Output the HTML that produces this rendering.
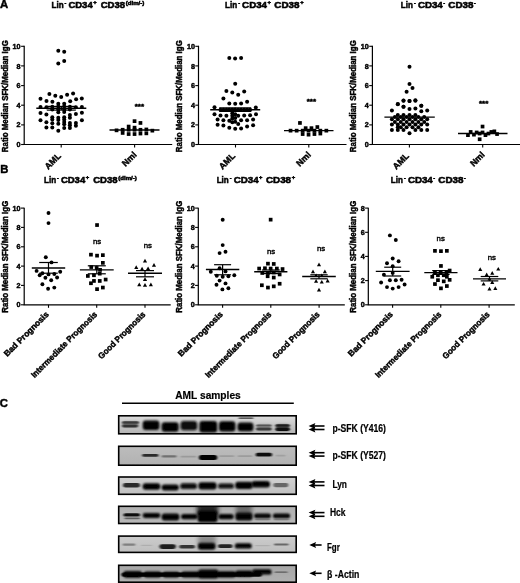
<!DOCTYPE html>
<html><head><meta charset="utf-8"><title>Figure</title>
<style>html,body{margin:0;padding:0;background:#fff}svg{display:block}text{font-family:'Liberation Sans', Arial, sans-serif;fill:#000}.bd{stroke:#000;stroke-width:0.45px}.bd2{stroke:#000;stroke-width:0.55px}.bd1{stroke:#000;stroke-width:0.2px}</style>
</head><body>
<svg width="520" height="583" viewBox="0 0 520 583">
<defs>
<filter id="b1" x="-20%" y="-50%" width="140%" height="200%"><feGaussianBlur stdDeviation="1.1 0.8"/></filter>
<filter id="b2" x="-20%" y="-50%" width="140%" height="200%"><feGaussianBlur stdDeviation="0.9 0.5"/></filter>
<filter id="b3" x="-20%" y="-50%" width="140%" height="200%"><feGaussianBlur stdDeviation="2 1.5"/></filter>
<filter id="soft" x="0" y="0" width="100%" height="100%" filterUnits="userSpaceOnUse" primitiveUnits="userSpaceOnUse"><feGaussianBlur stdDeviation="0.42"/></filter>
</defs>
<rect width="520" height="583" fill="#fff"/>
<g filter="url(#soft)">
<rect x="-5" y="-5" width="530" height="593" fill="#fff"/>
<text x="0" y="8.1" font-size="11.3" font-weight="bold" class="bd">A</text>
<text x="0.2" y="173.3" font-size="11.3" font-weight="bold" class="bd">B</text>
<text x="-0.2" y="407.1" font-size="11.3" font-weight="bold" class="bd">C</text>
<text x="51.5" y="8.0" font-size="9.9" font-weight="bold" class="bd2" textLength="12.1" lengthAdjust="spacingAndGlyphs">Lin</text>
<text x="64.6" y="5.0" font-size="6.0" font-weight="bold" class="bd2" textLength="1.8" lengthAdjust="spacingAndGlyphs">-</text>
<text x="68.4" y="8.0" font-size="9.9" font-weight="bold" class="bd2" textLength="24.3" lengthAdjust="spacingAndGlyphs">CD34</text>
<text x="93.2" y="4.2" font-size="6.0" font-weight="bold" class="bd2" textLength="3.4" lengthAdjust="spacingAndGlyphs">+</text>
<text x="100.7" y="8.0" font-size="9.9" font-weight="bold" class="bd2" textLength="24.4" lengthAdjust="spacingAndGlyphs">CD38</text>
<text x="125.7" y="4.6" font-size="6.0" font-weight="bold" class="bd2" textLength="18.6" lengthAdjust="spacingAndGlyphs">(dim/-)</text>
<text x="225.1" y="8.0" font-size="9.9" font-weight="bold" class="bd2" textLength="12.1" lengthAdjust="spacingAndGlyphs">Lin</text>
<text x="238.2" y="5.0" font-size="6.0" font-weight="bold" class="bd2" textLength="1.8" lengthAdjust="spacingAndGlyphs">-</text>
<text x="242.1" y="8.0" font-size="9.9" font-weight="bold" class="bd2" textLength="24.9" lengthAdjust="spacingAndGlyphs">CD34</text>
<text x="267.4" y="4.2" font-size="6.0" font-weight="bold" class="bd2" textLength="3.4" lengthAdjust="spacingAndGlyphs">+</text>
<text x="274.3" y="8.0" font-size="9.9" font-weight="bold" class="bd2" textLength="25.2" lengthAdjust="spacingAndGlyphs">CD38</text>
<text x="300.2" y="4.2" font-size="6.0" font-weight="bold" class="bd2" textLength="3.4" lengthAdjust="spacingAndGlyphs">+</text>
<text x="400.8" y="8.0" font-size="9.9" font-weight="bold" class="bd2" textLength="12.1" lengthAdjust="spacingAndGlyphs">Lin</text>
<text x="413.9" y="5.0" font-size="6.0" font-weight="bold" class="bd2" textLength="1.8" lengthAdjust="spacingAndGlyphs">-</text>
<text x="417.9" y="8.0" font-size="9.9" font-weight="bold" class="bd2" textLength="24.9" lengthAdjust="spacingAndGlyphs">CD34</text>
<text x="443.3" y="5.0" font-size="6.0" font-weight="bold" class="bd2" textLength="1.8" lengthAdjust="spacingAndGlyphs">-</text>
<text x="448.3" y="8.0" font-size="9.9" font-weight="bold" class="bd2" textLength="25.2" lengthAdjust="spacingAndGlyphs">CD38</text>
<text x="474.1" y="5.0" font-size="6.0" font-weight="bold" class="bd2" textLength="1.8" lengthAdjust="spacingAndGlyphs">-</text>
<text x="44.0" y="183.2" font-size="9.9" font-weight="bold" class="bd2" textLength="12.1" lengthAdjust="spacingAndGlyphs">Lin</text>
<text x="57.1" y="180.2" font-size="6.0" font-weight="bold" class="bd2" textLength="1.8" lengthAdjust="spacingAndGlyphs">-</text>
<text x="60.9" y="183.2" font-size="9.9" font-weight="bold" class="bd2" textLength="24.3" lengthAdjust="spacingAndGlyphs">CD34</text>
<text x="85.7" y="179.4" font-size="6.0" font-weight="bold" class="bd2" textLength="3.4" lengthAdjust="spacingAndGlyphs">+</text>
<text x="93.2" y="183.2" font-size="9.9" font-weight="bold" class="bd2" textLength="24.4" lengthAdjust="spacingAndGlyphs">CD38</text>
<text x="118.2" y="179.8" font-size="6.0" font-weight="bold" class="bd2" textLength="18.6" lengthAdjust="spacingAndGlyphs">(dim/-)</text>
<text x="216.7" y="183.2" font-size="9.9" font-weight="bold" class="bd2" textLength="12.1" lengthAdjust="spacingAndGlyphs">Lin</text>
<text x="229.8" y="180.2" font-size="6.0" font-weight="bold" class="bd2" textLength="1.8" lengthAdjust="spacingAndGlyphs">-</text>
<text x="233.7" y="183.2" font-size="9.9" font-weight="bold" class="bd2" textLength="24.9" lengthAdjust="spacingAndGlyphs">CD34</text>
<text x="259.0" y="179.4" font-size="6.0" font-weight="bold" class="bd2" textLength="3.4" lengthAdjust="spacingAndGlyphs">+</text>
<text x="265.9" y="183.2" font-size="9.9" font-weight="bold" class="bd2" textLength="25.2" lengthAdjust="spacingAndGlyphs">CD38</text>
<text x="291.8" y="179.4" font-size="6.0" font-weight="bold" class="bd2" textLength="3.4" lengthAdjust="spacingAndGlyphs">+</text>
<text x="390.8" y="183.2" font-size="9.9" font-weight="bold" class="bd2" textLength="12.1" lengthAdjust="spacingAndGlyphs">Lin</text>
<text x="403.9" y="180.2" font-size="6.0" font-weight="bold" class="bd2" textLength="1.8" lengthAdjust="spacingAndGlyphs">-</text>
<text x="407.9" y="183.2" font-size="9.9" font-weight="bold" class="bd2" textLength="24.9" lengthAdjust="spacingAndGlyphs">CD34</text>
<text x="433.3" y="180.2" font-size="6.0" font-weight="bold" class="bd2" textLength="1.8" lengthAdjust="spacingAndGlyphs">-</text>
<text x="438.3" y="183.2" font-size="9.9" font-weight="bold" class="bd2" textLength="25.2" lengthAdjust="spacingAndGlyphs">CD38</text>
<text x="464.1" y="180.2" font-size="6.0" font-weight="bold" class="bd2" textLength="1.8" lengthAdjust="spacingAndGlyphs">-</text>
<path d="M24.2 45.8V144.5H172.2" stroke="#000" stroke-width="1.2" fill="none"/>
<path d="M21.1 144.5H24.2" stroke="#000" stroke-width="1.1"/>
<text x="20.6" y="147.1" font-size="7.2" font-weight="bold" class="bd" text-anchor="end">0</text>
<path d="M21.1 124.9H24.2" stroke="#000" stroke-width="1.1"/>
<text x="20.6" y="127.4" font-size="7.2" font-weight="bold" class="bd" text-anchor="end">2</text>
<path d="M21.1 105.2H24.2" stroke="#000" stroke-width="1.1"/>
<text x="20.6" y="107.8" font-size="7.2" font-weight="bold" class="bd" text-anchor="end">4</text>
<path d="M21.1 85.6H24.2" stroke="#000" stroke-width="1.1"/>
<text x="20.6" y="88.1" font-size="7.2" font-weight="bold" class="bd" text-anchor="end">6</text>
<path d="M21.1 65.9H24.2" stroke="#000" stroke-width="1.1"/>
<text x="20.6" y="68.5" font-size="7.2" font-weight="bold" class="bd" text-anchor="end">8</text>
<path d="M21.1 46.3H24.2" stroke="#000" stroke-width="1.1"/>
<text x="20.6" y="48.8" font-size="7.2" font-weight="bold" class="bd" text-anchor="end">10</text>
<path d="M61.2 144.5V147.5" stroke="#000" stroke-width="1.1"/>
<path d="M134.6 144.5V147.5" stroke="#000" stroke-width="1.1"/>
<text transform="translate(7.6,96.2) rotate(-90)" font-size="8.8" font-weight="bold" class="bd" text-anchor="middle" textLength="112" lengthAdjust="spacingAndGlyphs">Ratio Median SFK/Median IgG</text>
<text transform="translate(61.5,156.6) rotate(-45)" font-size="8.7" font-weight="bold" class="bd" text-anchor="end">AML</text>
<text transform="translate(137.2,155.3) rotate(-45)" font-size="8.7" font-weight="bold" class="bd" text-anchor="end">Nml</text>
<path d="M198.5 45.8V144.5H346.5" stroke="#000" stroke-width="1.2" fill="none"/>
<path d="M195.3 144.5H198.5" stroke="#000" stroke-width="1.1"/>
<text x="194.9" y="147.1" font-size="7.2" font-weight="bold" class="bd" text-anchor="end">0</text>
<path d="M195.3 124.9H198.5" stroke="#000" stroke-width="1.1"/>
<text x="194.9" y="127.4" font-size="7.2" font-weight="bold" class="bd" text-anchor="end">2</text>
<path d="M195.3 105.2H198.5" stroke="#000" stroke-width="1.1"/>
<text x="194.9" y="107.8" font-size="7.2" font-weight="bold" class="bd" text-anchor="end">4</text>
<path d="M195.3 85.6H198.5" stroke="#000" stroke-width="1.1"/>
<text x="194.9" y="88.1" font-size="7.2" font-weight="bold" class="bd" text-anchor="end">6</text>
<path d="M195.3 65.9H198.5" stroke="#000" stroke-width="1.1"/>
<text x="194.9" y="68.5" font-size="7.2" font-weight="bold" class="bd" text-anchor="end">8</text>
<path d="M195.3 46.3H198.5" stroke="#000" stroke-width="1.1"/>
<text x="194.9" y="48.8" font-size="7.2" font-weight="bold" class="bd" text-anchor="end">10</text>
<path d="M235.5 144.5V147.5" stroke="#000" stroke-width="1.1"/>
<path d="M308.8 144.5V147.5" stroke="#000" stroke-width="1.1"/>
<text transform="translate(181.9,96.2) rotate(-90)" font-size="8.8" font-weight="bold" class="bd" text-anchor="middle" textLength="112" lengthAdjust="spacingAndGlyphs">Ratio Median SFK/Median IgG</text>
<text transform="translate(235.7,156.6) rotate(-45)" font-size="8.7" font-weight="bold" class="bd" text-anchor="end">AML</text>
<text transform="translate(311.4,155.3) rotate(-45)" font-size="8.7" font-weight="bold" class="bd" text-anchor="end">Nml</text>
<path d="M372.4 45.8V144.5H520.4" stroke="#000" stroke-width="1.2" fill="none"/>
<path d="M369.2 144.5H372.4" stroke="#000" stroke-width="1.1"/>
<text x="368.8" y="147.1" font-size="7.2" font-weight="bold" class="bd" text-anchor="end">0</text>
<path d="M369.2 124.9H372.4" stroke="#000" stroke-width="1.1"/>
<text x="368.8" y="127.4" font-size="7.2" font-weight="bold" class="bd" text-anchor="end">2</text>
<path d="M369.2 105.2H372.4" stroke="#000" stroke-width="1.1"/>
<text x="368.8" y="107.8" font-size="7.2" font-weight="bold" class="bd" text-anchor="end">4</text>
<path d="M369.2 85.6H372.4" stroke="#000" stroke-width="1.1"/>
<text x="368.8" y="88.1" font-size="7.2" font-weight="bold" class="bd" text-anchor="end">6</text>
<path d="M369.2 65.9H372.4" stroke="#000" stroke-width="1.1"/>
<text x="368.8" y="68.5" font-size="7.2" font-weight="bold" class="bd" text-anchor="end">8</text>
<path d="M369.2 46.3H372.4" stroke="#000" stroke-width="1.1"/>
<text x="368.8" y="48.8" font-size="7.2" font-weight="bold" class="bd" text-anchor="end">10</text>
<path d="M409.4 144.5V147.5" stroke="#000" stroke-width="1.1"/>
<path d="M482.7 144.5V147.5" stroke="#000" stroke-width="1.1"/>
<text transform="translate(355.8,96.2) rotate(-90)" font-size="8.8" font-weight="bold" class="bd" text-anchor="middle" textLength="112" lengthAdjust="spacingAndGlyphs">Ratio Median SFK/Median IgG</text>
<text transform="translate(409.6,156.6) rotate(-45)" font-size="8.7" font-weight="bold" class="bd" text-anchor="end">AML</text>
<text transform="translate(485.3,155.3) rotate(-45)" font-size="8.7" font-weight="bold" class="bd" text-anchor="end">Nml</text>
<g fill="#000">
<circle cx="58.3" cy="50.8" r="2.0"/>
<circle cx="64.2" cy="51.7" r="2.0"/>
<circle cx="58.3" cy="63.6" r="2.0"/>
<circle cx="64.2" cy="61.1" r="2.0"/>
<circle cx="40.5" cy="106.9" r="2.0"/>
<circle cx="81.9" cy="106.9" r="2.0"/>
<circle cx="46.4" cy="107.3" r="2.0"/>
<circle cx="75.9" cy="107.3" r="2.0"/>
<circle cx="52.3" cy="106.7" r="2.0"/>
<circle cx="69.9" cy="106.7" r="2.0"/>
<circle cx="58.3" cy="103.8" r="2.0"/>
<circle cx="64.2" cy="103.8" r="2.0"/>
<circle cx="58.3" cy="106.5" r="2.0"/>
<circle cx="64.2" cy="106.5" r="2.0"/>
<circle cx="58.3" cy="109.4" r="2.0"/>
<circle cx="64.2" cy="109.4" r="2.0"/>
<circle cx="58.3" cy="112.3" r="2.0"/>
<circle cx="64.2" cy="112.0" r="2.0"/>
<circle cx="52.3" cy="109.4" r="2.0"/>
<circle cx="69.9" cy="109.4" r="2.0"/>
<circle cx="40.5" cy="113.0" r="2.0"/>
<circle cx="46.4" cy="114.4" r="2.0"/>
<circle cx="75.9" cy="113.9" r="2.0"/>
<circle cx="81.9" cy="112.8" r="2.0"/>
<circle cx="52.3" cy="117.3" r="2.0"/>
<circle cx="52.3" cy="119.4" r="2.0"/>
<circle cx="52.3" cy="123.3" r="2.0"/>
<circle cx="52.3" cy="127.6" r="2.0"/>
<circle cx="58.3" cy="117.8" r="2.0"/>
<circle cx="58.3" cy="119.9" r="2.0"/>
<circle cx="58.3" cy="123.8" r="2.0"/>
<circle cx="58.3" cy="130.8" r="2.0"/>
<circle cx="64.2" cy="117.3" r="2.0"/>
<circle cx="64.2" cy="119.4" r="2.0"/>
<circle cx="64.2" cy="121.9" r="2.0"/>
<circle cx="64.2" cy="124.2" r="2.0"/>
<circle cx="64.2" cy="128.1" r="2.0"/>
<circle cx="69.9" cy="114.9" r="2.0"/>
<circle cx="69.9" cy="117.8" r="2.0"/>
<circle cx="69.9" cy="123.1" r="2.0"/>
<circle cx="69.9" cy="125.2" r="2.0"/>
<circle cx="69.9" cy="128.1" r="2.0"/>
<circle cx="46.4" cy="122.3" r="2.0"/>
<circle cx="46.4" cy="127.4" r="2.0"/>
<circle cx="75.9" cy="123.1" r="2.0"/>
<circle cx="75.9" cy="125.7" r="2.0"/>
<circle cx="40.5" cy="120.2" r="2.0"/>
<circle cx="81.9" cy="120.2" r="2.0"/>
<circle cx="49.4" cy="93.9" r="2.0"/>
<circle cx="55.3" cy="95.8" r="2.0"/>
<circle cx="61.2" cy="97.1" r="2.0"/>
<circle cx="67.1" cy="94.7" r="2.0"/>
<circle cx="73.1" cy="93.6" r="2.0"/>
<circle cx="40.5" cy="98.7" r="2.0"/>
<circle cx="46.5" cy="100.9" r="2.0"/>
<circle cx="52.4" cy="101.7" r="2.0"/>
<circle cx="70.2" cy="101.2" r="2.0"/>
<circle cx="76.1" cy="99.3" r="2.0"/>
<circle cx="81.8" cy="98.5" r="2.0"/>
<circle cx="229.3" cy="58.1" r="2.0"/>
<circle cx="235.1" cy="58.4" r="2.0"/>
<circle cx="241.1" cy="58.0" r="2.0"/>
<circle cx="235.2" cy="83.8" r="2.0"/>
<circle cx="226.4" cy="91.1" r="2.0"/>
<circle cx="232.3" cy="92.4" r="2.0"/>
<circle cx="238.2" cy="94.8" r="2.0"/>
<circle cx="244.2" cy="91.6" r="2.0"/>
<circle cx="223.4" cy="98.4" r="2.0"/>
<circle cx="247.1" cy="101.8" r="2.0"/>
<circle cx="229.3" cy="103.5" r="2.0"/>
<circle cx="235.2" cy="103.7" r="2.0"/>
<circle cx="241.1" cy="103.5" r="2.0"/>
<circle cx="214.5" cy="107.2" r="2.0"/>
<circle cx="255.8" cy="107.6" r="2.0"/>
<circle cx="220.5" cy="109.7" r="2.0"/>
<circle cx="223.4" cy="109.7" r="2.0"/>
<circle cx="226.4" cy="109.7" r="2.0"/>
<circle cx="229.3" cy="109.7" r="2.0"/>
<circle cx="232.3" cy="109.7" r="2.0"/>
<circle cx="235.2" cy="109.7" r="2.0"/>
<circle cx="238.2" cy="109.7" r="2.0"/>
<circle cx="241.1" cy="109.7" r="2.0"/>
<circle cx="244.2" cy="109.7" r="2.0"/>
<circle cx="247.1" cy="109.7" r="2.0"/>
<circle cx="250.1" cy="109.7" r="2.0"/>
<circle cx="214.5" cy="114.2" r="2.0"/>
<circle cx="256.0" cy="114.2" r="2.0"/>
<circle cx="220.5" cy="115.5" r="2.0"/>
<circle cx="226.4" cy="115.8" r="2.0"/>
<circle cx="232.3" cy="113.2" r="2.0"/>
<circle cx="232.3" cy="115.8" r="2.0"/>
<circle cx="235.2" cy="114.2" r="2.0"/>
<circle cx="238.2" cy="115.8" r="2.0"/>
<circle cx="244.2" cy="115.5" r="2.0"/>
<circle cx="250.1" cy="115.3" r="2.0"/>
<circle cx="217.6" cy="119.6" r="2.0"/>
<circle cx="223.4" cy="120.2" r="2.0"/>
<circle cx="229.3" cy="120.7" r="2.0"/>
<circle cx="232.3" cy="118.5" r="2.0"/>
<circle cx="235.2" cy="118.0" r="2.0"/>
<circle cx="241.1" cy="120.2" r="2.0"/>
<circle cx="247.1" cy="120.2" r="2.0"/>
<circle cx="253.1" cy="119.6" r="2.0"/>
<circle cx="217.6" cy="124.7" r="2.0"/>
<circle cx="223.4" cy="125.5" r="2.0"/>
<circle cx="232.3" cy="122.3" r="2.0"/>
<circle cx="235.2" cy="121.8" r="2.0"/>
<circle cx="238.2" cy="123.9" r="2.0"/>
<circle cx="247.1" cy="126.6" r="2.0"/>
<circle cx="253.1" cy="125.3" r="2.0"/>
<circle cx="229.3" cy="127.7" r="2.0"/>
<circle cx="235.2" cy="128.8" r="2.0"/>
<circle cx="241.1" cy="128.6" r="2.0"/>
<circle cx="409.5" cy="66.7" r="2.0"/>
<circle cx="409.5" cy="83.9" r="2.0"/>
<circle cx="412.5" cy="88.0" r="2.0"/>
<circle cx="406.6" cy="91.8" r="2.0"/>
<circle cx="403.5" cy="100.7" r="2.0"/>
<circle cx="409.5" cy="100.9" r="2.0"/>
<circle cx="415.4" cy="100.7" r="2.0"/>
<circle cx="397.8" cy="103.9" r="2.0"/>
<circle cx="421.3" cy="105.8" r="2.0"/>
<circle cx="403.5" cy="106.8" r="2.0"/>
<circle cx="397.8" cy="114.9" r="2.0"/>
<circle cx="403.5" cy="114.9" r="2.0"/>
<circle cx="409.5" cy="114.9" r="2.0"/>
<circle cx="415.4" cy="114.9" r="2.0"/>
<circle cx="394.9" cy="117.1" r="2.0"/>
<circle cx="400.8" cy="117.1" r="2.0"/>
<circle cx="406.6" cy="117.1" r="2.0"/>
<circle cx="412.5" cy="117.1" r="2.0"/>
<circle cx="418.4" cy="117.1" r="2.0"/>
<circle cx="424.2" cy="117.1" r="2.0"/>
<circle cx="391.9" cy="119.2" r="2.0"/>
<circle cx="397.8" cy="119.2" r="2.0"/>
<circle cx="403.5" cy="119.2" r="2.0"/>
<circle cx="409.5" cy="119.2" r="2.0"/>
<circle cx="415.4" cy="119.2" r="2.0"/>
<circle cx="421.3" cy="119.2" r="2.0"/>
<circle cx="427.2" cy="119.2" r="2.0"/>
<circle cx="394.9" cy="121.9" r="2.0"/>
<circle cx="400.8" cy="121.9" r="2.0"/>
<circle cx="406.6" cy="121.9" r="2.0"/>
<circle cx="412.5" cy="121.9" r="2.0"/>
<circle cx="418.4" cy="121.9" r="2.0"/>
<circle cx="424.2" cy="121.9" r="2.0"/>
<circle cx="391.9" cy="124.6" r="2.0"/>
<circle cx="397.8" cy="124.6" r="2.0"/>
<circle cx="403.5" cy="124.6" r="2.0"/>
<circle cx="409.5" cy="124.6" r="2.0"/>
<circle cx="415.4" cy="124.6" r="2.0"/>
<circle cx="421.3" cy="124.6" r="2.0"/>
<circle cx="427.2" cy="124.6" r="2.0"/>
<circle cx="397.8" cy="127.3" r="2.0"/>
<circle cx="400.8" cy="127.3" r="2.0"/>
<circle cx="406.6" cy="127.3" r="2.0"/>
<circle cx="412.5" cy="127.3" r="2.0"/>
<circle cx="418.4" cy="127.3" r="2.0"/>
<circle cx="391.9" cy="130.0" r="2.0"/>
<circle cx="397.8" cy="130.0" r="2.0"/>
<circle cx="403.5" cy="130.0" r="2.0"/>
<circle cx="415.4" cy="130.0" r="2.0"/>
<circle cx="421.3" cy="130.0" r="2.0"/>
<circle cx="427.2" cy="130.0" r="2.0"/>
<circle cx="409.5" cy="133.2" r="2.0"/>
<circle cx="403.5" cy="100.4" r="2.0"/>
<circle cx="409.5" cy="100.9" r="2.0"/>
<circle cx="415.4" cy="100.2" r="2.0"/>
<circle cx="397.8" cy="104.2" r="2.0"/>
<circle cx="421.3" cy="105.8" r="2.0"/>
<circle cx="403.5" cy="106.8" r="2.0"/>
<circle cx="409.5" cy="109.0" r="2.0"/>
<circle cx="415.4" cy="108.5" r="2.0"/>
<circle cx="391.9" cy="110.6" r="2.0"/>
<circle cx="421.3" cy="111.2" r="2.0"/>
<circle cx="427.2" cy="110.6" r="2.0"/>
<rect x="132.7" y="119.3" width="3.7" height="3.7"/>
<rect x="138.6" y="121.1" width="3.7" height="3.7"/>
<rect x="126.8" y="124.7" width="3.7" height="3.7"/>
<rect x="132.7" y="125.8" width="3.7" height="3.7"/>
<rect x="114.7" y="128.5" width="3.7" height="3.7"/>
<rect x="150.5" y="128.8" width="3.7" height="3.7"/>
<rect x="120.8" y="127.9" width="3.7" height="3.7"/>
<rect x="126.8" y="127.9" width="3.7" height="3.7"/>
<rect x="132.7" y="127.9" width="3.7" height="3.7"/>
<rect x="138.6" y="127.9" width="3.7" height="3.7"/>
<rect x="144.5" y="127.6" width="3.7" height="3.7"/>
<rect x="120.8" y="131.1" width="3.7" height="3.7"/>
<rect x="126.8" y="132.2" width="3.7" height="3.7"/>
<rect x="132.7" y="132.2" width="3.7" height="3.7"/>
<rect x="138.6" y="131.7" width="3.7" height="3.7"/>
<rect x="144.5" y="131.5" width="3.7" height="3.7"/>
<rect x="298.1" y="121.1" width="3.7" height="3.7"/>
<rect x="303.8" y="126.3" width="3.7" height="3.7"/>
<rect x="309.6" y="126.3" width="3.7" height="3.7"/>
<rect x="315.5" y="125.2" width="3.7" height="3.7"/>
<rect x="288.7" y="128.8" width="3.7" height="3.7"/>
<rect x="324.5" y="128.8" width="3.7" height="3.7"/>
<rect x="294.8" y="128.8" width="3.7" height="3.7"/>
<rect x="300.8" y="128.8" width="3.7" height="3.7"/>
<rect x="306.7" y="128.8" width="3.7" height="3.7"/>
<rect x="312.6" y="128.8" width="3.7" height="3.7"/>
<rect x="318.5" y="128.8" width="3.7" height="3.7"/>
<rect x="300.8" y="132.2" width="3.7" height="3.7"/>
<rect x="306.7" y="132.8" width="3.7" height="3.7"/>
<rect x="312.6" y="132.2" width="3.7" height="3.7"/>
<rect x="318.5" y="131.7" width="3.7" height="3.7"/>
<rect x="480.7" y="124.7" width="3.7" height="3.7"/>
<rect x="477.8" y="137.4" width="3.7" height="3.7"/>
<rect x="468.8" y="130.1" width="3.7" height="3.7"/>
<rect x="466.1" y="133.3" width="3.7" height="3.7"/>
<rect x="472.1" y="132.8" width="3.7" height="3.7"/>
<rect x="474.8" y="130.6" width="3.7" height="3.7"/>
<rect x="477.8" y="131.7" width="3.7" height="3.7"/>
<rect x="480.7" y="130.6" width="3.7" height="3.7"/>
<rect x="483.6" y="133.3" width="3.7" height="3.7"/>
<rect x="486.6" y="131.7" width="3.7" height="3.7"/>
<rect x="489.5" y="130.1" width="3.7" height="3.7"/>
<rect x="492.5" y="129.5" width="3.7" height="3.7"/>
<rect x="495.2" y="132.2" width="3.7" height="3.7"/>
</g>
<path d="M36.3 108.2H86.3" stroke="#000" stroke-width="1.35" fill="none"/>
<path d="M46.8 106.4H75.8" stroke="#000" stroke-width="1.2" fill="none"/>
<path d="M46.8 110.1H75.8" stroke="#000" stroke-width="1.2" fill="none"/>
<path d="M61.3 106.4V110.1" stroke="#000" stroke-width="1.2" fill="none"/>
<path d="M109.5 130.0H159.5" stroke="#000" stroke-width="1.35" fill="none"/>
<path d="M210.2 109.7H260.2" stroke="#000" stroke-width="1.35" fill="none"/>
<path d="M219.2 107.8H251.2" stroke="#000" stroke-width="1.2" fill="none"/>
<path d="M219.2 111.5H251.2" stroke="#000" stroke-width="1.2" fill="none"/>
<path d="M235.2 107.8V111.5" stroke="#000" stroke-width="1.2" fill="none"/>
<path d="M284.0 130.6H333.5" stroke="#000" stroke-width="1.35" fill="none"/>
<path d="M384.4 117.1H434.8" stroke="#000" stroke-width="1.35" fill="none"/>
<path d="M458.0 133.5H507.5" stroke="#000" stroke-width="1.35" fill="none"/>
<text x="139.4" y="108.8" font-size="7.5" font-weight="bold" class="bd" text-anchor="middle" textLength="9.4" lengthAdjust="spacingAndGlyphs">***</text>
<text x="311.4" y="103.7" font-size="7.5" font-weight="bold" class="bd" text-anchor="middle" textLength="9.4" lengthAdjust="spacingAndGlyphs">***</text>
<text x="483.6" y="106.3" font-size="7.5" font-weight="bold" class="bd" text-anchor="middle" textLength="9.4" lengthAdjust="spacingAndGlyphs">***</text>
<path d="M24.2 207.8V304.8H170.7" stroke="#000" stroke-width="1.2" fill="none"/>
<path d="M21.0 304.8H24.2" stroke="#000" stroke-width="1.1"/>
<text x="20.6" y="307.4" font-size="7.2" font-weight="bold" class="bd" text-anchor="end">0</text>
<path d="M21.0 285.4H24.2" stroke="#000" stroke-width="1.1"/>
<text x="20.6" y="288.0" font-size="7.2" font-weight="bold" class="bd" text-anchor="end">2</text>
<path d="M21.0 266.1H24.2" stroke="#000" stroke-width="1.1"/>
<text x="20.6" y="268.7" font-size="7.2" font-weight="bold" class="bd" text-anchor="end">4</text>
<path d="M21.0 246.8H24.2" stroke="#000" stroke-width="1.1"/>
<text x="20.6" y="249.3" font-size="7.2" font-weight="bold" class="bd" text-anchor="end">6</text>
<path d="M21.0 227.4H24.2" stroke="#000" stroke-width="1.1"/>
<text x="20.6" y="230.0" font-size="7.2" font-weight="bold" class="bd" text-anchor="end">8</text>
<path d="M21.0 208.1H24.2" stroke="#000" stroke-width="1.1"/>
<text x="20.6" y="210.6" font-size="7.2" font-weight="bold" class="bd" text-anchor="end">10</text>
<path d="M48.5 304.8V307.8" stroke="#000" stroke-width="1.1"/>
<path d="M96.7 304.8V307.8" stroke="#000" stroke-width="1.1"/>
<path d="M145.0 304.8V307.8" stroke="#000" stroke-width="1.1"/>
<text transform="translate(7.8,256.7) rotate(-90)" font-size="8.8" font-weight="bold" class="bd" text-anchor="middle" textLength="112" lengthAdjust="spacingAndGlyphs">Ratio Median SFK/Median IgG</text>
<text transform="translate(49.3,315.0) rotate(-45)" font-size="8.4" font-weight="bold" class="bd" text-anchor="end" textLength="59.5" lengthAdjust="spacingAndGlyphs">Bad Prognosis</text>
<text transform="translate(97.7,315.0) rotate(-45)" font-size="8.4" font-weight="bold" class="bd" text-anchor="end" textLength="89.5" lengthAdjust="spacingAndGlyphs">Intermediate Prognosis</text>
<text transform="translate(146.0,315.0) rotate(-45)" font-size="8.4" font-weight="bold" class="bd" text-anchor="end" textLength="62.8" lengthAdjust="spacingAndGlyphs">Good Prognosis</text>
<path d="M198.3 207.8V304.8H344.8" stroke="#000" stroke-width="1.2" fill="none"/>
<path d="M195.1 304.8H198.3" stroke="#000" stroke-width="1.1"/>
<text x="194.7" y="307.4" font-size="7.2" font-weight="bold" class="bd" text-anchor="end">0</text>
<path d="M195.1 285.4H198.3" stroke="#000" stroke-width="1.1"/>
<text x="194.7" y="288.0" font-size="7.2" font-weight="bold" class="bd" text-anchor="end">2</text>
<path d="M195.1 266.1H198.3" stroke="#000" stroke-width="1.1"/>
<text x="194.7" y="268.7" font-size="7.2" font-weight="bold" class="bd" text-anchor="end">4</text>
<path d="M195.1 246.8H198.3" stroke="#000" stroke-width="1.1"/>
<text x="194.7" y="249.3" font-size="7.2" font-weight="bold" class="bd" text-anchor="end">6</text>
<path d="M195.1 227.4H198.3" stroke="#000" stroke-width="1.1"/>
<text x="194.7" y="230.0" font-size="7.2" font-weight="bold" class="bd" text-anchor="end">8</text>
<path d="M195.1 208.1H198.3" stroke="#000" stroke-width="1.1"/>
<text x="194.7" y="210.6" font-size="7.2" font-weight="bold" class="bd" text-anchor="end">10</text>
<path d="M222.6 304.8V307.8" stroke="#000" stroke-width="1.1"/>
<path d="M270.8 304.8V307.8" stroke="#000" stroke-width="1.1"/>
<path d="M319.1 304.8V307.8" stroke="#000" stroke-width="1.1"/>
<text transform="translate(181.9,256.7) rotate(-90)" font-size="8.8" font-weight="bold" class="bd" text-anchor="middle" textLength="112" lengthAdjust="spacingAndGlyphs">Ratio Median SFK/Median IgG</text>
<text transform="translate(223.4,315.0) rotate(-45)" font-size="8.4" font-weight="bold" class="bd" text-anchor="end" textLength="59.5" lengthAdjust="spacingAndGlyphs">Bad Prognosis</text>
<text transform="translate(271.8,315.0) rotate(-45)" font-size="8.4" font-weight="bold" class="bd" text-anchor="end" textLength="89.5" lengthAdjust="spacingAndGlyphs">Intermediate Prognosis</text>
<text transform="translate(320.1,315.0) rotate(-45)" font-size="8.4" font-weight="bold" class="bd" text-anchor="end" textLength="62.8" lengthAdjust="spacingAndGlyphs">Good Prognosis</text>
<path d="M368.3 207.8V304.8H514.8" stroke="#000" stroke-width="1.2" fill="none"/>
<path d="M365.1 304.8H368.3" stroke="#000" stroke-width="1.1"/>
<text x="364.7" y="307.4" font-size="7.2" font-weight="bold" class="bd" text-anchor="end">0</text>
<path d="M365.1 280.6H368.3" stroke="#000" stroke-width="1.1"/>
<text x="364.7" y="283.2" font-size="7.2" font-weight="bold" class="bd" text-anchor="end">2</text>
<path d="M365.1 256.4H368.3" stroke="#000" stroke-width="1.1"/>
<text x="364.7" y="259.0" font-size="7.2" font-weight="bold" class="bd" text-anchor="end">4</text>
<path d="M365.1 232.3H368.3" stroke="#000" stroke-width="1.1"/>
<text x="364.7" y="234.8" font-size="7.2" font-weight="bold" class="bd" text-anchor="end">6</text>
<path d="M365.1 208.1H368.3" stroke="#000" stroke-width="1.1"/>
<text x="364.7" y="210.6" font-size="7.2" font-weight="bold" class="bd" text-anchor="end">8</text>
<path d="M392.6 304.8V307.8" stroke="#000" stroke-width="1.1"/>
<path d="M440.8 304.8V307.8" stroke="#000" stroke-width="1.1"/>
<path d="M489.1 304.8V307.8" stroke="#000" stroke-width="1.1"/>
<text transform="translate(355.7,256.7) rotate(-90)" font-size="8.8" font-weight="bold" class="bd" text-anchor="middle" textLength="112" lengthAdjust="spacingAndGlyphs">Ratio Median SFK/Median IgG</text>
<text transform="translate(393.4,315.0) rotate(-45)" font-size="8.4" font-weight="bold" class="bd" text-anchor="end" textLength="59.5" lengthAdjust="spacingAndGlyphs">Bad Prognosis</text>
<text transform="translate(441.8,315.0) rotate(-45)" font-size="8.4" font-weight="bold" class="bd" text-anchor="end" textLength="89.5" lengthAdjust="spacingAndGlyphs">Intermediate Prognosis</text>
<text transform="translate(490.1,315.0) rotate(-45)" font-size="8.4" font-weight="bold" class="bd" text-anchor="end" textLength="62.8" lengthAdjust="spacingAndGlyphs">Good Prognosis</text>
<g fill="#000">
<circle cx="48.5" cy="213.0" r="1.95"/>
<circle cx="48.5" cy="223.1" r="1.95"/>
<circle cx="45.8" cy="257.2" r="1.95"/>
<circle cx="51.5" cy="262.4" r="1.95"/>
<circle cx="36.6" cy="270.9" r="1.95"/>
<circle cx="60.2" cy="271.7" r="1.95"/>
<circle cx="42.4" cy="273.2" r="1.95"/>
<circle cx="39.7" cy="275.2" r="1.95"/>
<circle cx="54.3" cy="274.0" r="1.95"/>
<circle cx="48.5" cy="274.4" r="1.95"/>
<circle cx="45.4" cy="277.8" r="1.95"/>
<circle cx="57.1" cy="277.5" r="1.95"/>
<circle cx="51.2" cy="280.2" r="1.95"/>
<circle cx="42.4" cy="284.2" r="1.95"/>
<circle cx="54.3" cy="287.6" r="1.95"/>
<circle cx="48.1" cy="288.8" r="1.95"/>
<rect x="95.2" y="223.2" width="3.7" height="3.7"/>
<rect x="89.1" y="252.8" width="3.7" height="3.7"/>
<rect x="95.2" y="253.8" width="3.7" height="3.7"/>
<rect x="101.0" y="253.3" width="3.7" height="3.7"/>
<rect x="101.0" y="261.0" width="3.7" height="3.7"/>
<rect x="89.4" y="265.2" width="3.7" height="3.7"/>
<rect x="94.8" y="266.1" width="3.7" height="3.7"/>
<rect x="98.2" y="268.0" width="3.7" height="3.7"/>
<rect x="86.0" y="274.1" width="3.7" height="3.7"/>
<rect x="92.1" y="273.4" width="3.7" height="3.7"/>
<rect x="97.9" y="271.8" width="3.7" height="3.7"/>
<rect x="103.8" y="277.7" width="3.7" height="3.7"/>
<rect x="92.1" y="279.1" width="3.7" height="3.7"/>
<rect x="97.9" y="279.1" width="3.7" height="3.7"/>
<rect x="89.1" y="281.4" width="3.7" height="3.7"/>
<rect x="101.0" y="285.7" width="3.7" height="3.7"/>
<rect x="95.2" y="287.3" width="3.7" height="3.7"/>
<path d="M142.9 262.4L147.1 262.4L145.0 258.7Z"/>
<path d="M134.2 268.9L138.3 268.9L136.2 265.2Z"/>
<path d="M151.9 266.7L156.0 266.7L154.0 263.0Z"/>
<path d="M140.0 270.4L144.1 270.4L142.1 266.7Z"/>
<path d="M146.0 270.1L150.1 270.1L148.1 266.4Z"/>
<path d="M142.9 280.9L147.1 280.9L145.0 277.2Z"/>
<path d="M137.2 286.3L141.3 286.3L139.3 282.6Z"/>
<path d="M142.9 286.8L147.1 286.8L145.0 283.1Z"/>
<path d="M148.8 286.3L152.9 286.3L150.9 282.6Z"/>
<circle cx="222.7" cy="219.7" r="1.95"/>
<circle cx="222.7" cy="245.1" r="1.95"/>
<circle cx="219.6" cy="253.1" r="1.95"/>
<circle cx="225.5" cy="251.8" r="1.95"/>
<circle cx="219.6" cy="268.3" r="1.95"/>
<circle cx="225.5" cy="271.4" r="1.95"/>
<circle cx="210.8" cy="271.7" r="1.95"/>
<circle cx="216.8" cy="275.7" r="1.95"/>
<circle cx="222.7" cy="276.8" r="1.95"/>
<circle cx="228.4" cy="276.3" r="1.95"/>
<circle cx="234.3" cy="275.2" r="1.95"/>
<circle cx="219.6" cy="280.6" r="1.95"/>
<circle cx="225.5" cy="283.4" r="1.95"/>
<circle cx="216.5" cy="284.8" r="1.95"/>
<circle cx="228.4" cy="288.3" r="1.95"/>
<circle cx="222.4" cy="289.4" r="1.95"/>
<rect x="268.8" y="217.8" width="3.7" height="3.7"/>
<rect x="266.1" y="261.8" width="3.7" height="3.7"/>
<rect x="271.9" y="262.1" width="3.7" height="3.7"/>
<rect x="257.3" y="266.7" width="3.7" height="3.7"/>
<rect x="263.1" y="266.4" width="3.7" height="3.7"/>
<rect x="268.8" y="266.7" width="3.7" height="3.7"/>
<rect x="275.0" y="266.7" width="3.7" height="3.7"/>
<rect x="280.7" y="267.2" width="3.7" height="3.7"/>
<rect x="260.4" y="271.1" width="3.7" height="3.7"/>
<rect x="266.1" y="271.1" width="3.7" height="3.7"/>
<rect x="271.9" y="270.6" width="3.7" height="3.7"/>
<rect x="277.8" y="272.6" width="3.7" height="3.7"/>
<rect x="265.8" y="274.4" width="3.7" height="3.7"/>
<rect x="271.9" y="275.7" width="3.7" height="3.7"/>
<rect x="260.0" y="283.4" width="3.7" height="3.7"/>
<rect x="266.1" y="285.7" width="3.7" height="3.7"/>
<rect x="271.9" y="284.5" width="3.7" height="3.7"/>
<rect x="277.8" y="281.9" width="3.7" height="3.7"/>
<path d="M316.9 266.3L321.1 266.3L319.0 262.6Z"/>
<path d="M310.9 273.2L315.0 273.2L313.0 269.5Z"/>
<path d="M322.8 273.2L326.9 273.2L324.9 269.5Z"/>
<path d="M314.0 277.1L318.1 277.1L316.1 273.4Z"/>
<path d="M319.7 277.1L323.8 277.1L321.8 273.4Z"/>
<path d="M314.0 282.8L318.1 282.8L316.1 279.1Z"/>
<path d="M319.7 283.5L323.8 283.5L321.8 279.9Z"/>
<path d="M325.6 282.5L329.7 282.5L327.6 278.8Z"/>
<path d="M316.9 291.4L321.1 291.4L319.0 287.7Z"/>
<circle cx="389.9" cy="235.4" r="1.95"/>
<circle cx="395.8" cy="240.0" r="1.95"/>
<circle cx="392.7" cy="258.5" r="1.95"/>
<circle cx="387.0" cy="263.2" r="1.95"/>
<circle cx="398.6" cy="261.3" r="1.95"/>
<circle cx="392.7" cy="266.3" r="1.95"/>
<circle cx="383.9" cy="274.8" r="1.95"/>
<circle cx="389.9" cy="280.2" r="1.95"/>
<circle cx="395.8" cy="280.2" r="1.95"/>
<circle cx="401.6" cy="279.8" r="1.95"/>
<circle cx="381.1" cy="282.5" r="1.95"/>
<circle cx="404.6" cy="284.5" r="1.95"/>
<circle cx="387.0" cy="287.1" r="1.95"/>
<circle cx="392.7" cy="288.6" r="1.95"/>
<circle cx="398.6" cy="287.1" r="1.95"/>
<circle cx="392.7" cy="272.9" r="1.95"/>
<rect x="433.1" y="249.0" width="3.7" height="3.7"/>
<rect x="439.1" y="249.3" width="3.7" height="3.7"/>
<rect x="445.0" y="249.0" width="3.7" height="3.7"/>
<rect x="439.1" y="264.1" width="3.7" height="3.7"/>
<rect x="447.8" y="268.7" width="3.7" height="3.7"/>
<rect x="433.1" y="270.6" width="3.7" height="3.7"/>
<rect x="438.8" y="270.6" width="3.7" height="3.7"/>
<rect x="444.7" y="270.6" width="3.7" height="3.7"/>
<rect x="430.4" y="274.9" width="3.7" height="3.7"/>
<rect x="436.1" y="273.4" width="3.7" height="3.7"/>
<rect x="441.9" y="273.4" width="3.7" height="3.7"/>
<rect x="445.0" y="274.9" width="3.7" height="3.7"/>
<rect x="436.1" y="278.3" width="3.7" height="3.7"/>
<rect x="441.9" y="279.5" width="3.7" height="3.7"/>
<rect x="447.8" y="278.0" width="3.7" height="3.7"/>
<rect x="433.1" y="282.2" width="3.7" height="3.7"/>
<rect x="445.0" y="284.2" width="3.7" height="3.7"/>
<rect x="439.1" y="286.5" width="3.7" height="3.7"/>
<path d="M478.2 270.9L482.3 270.9L480.2 267.2Z"/>
<path d="M496.2 270.6L500.3 270.6L498.3 266.9Z"/>
<path d="M484.6 276.3L488.7 276.3L486.7 272.6Z"/>
<path d="M490.2 274.7L494.3 274.7L492.2 271.1Z"/>
<path d="M481.5 285.5L485.6 285.5L483.6 281.9Z"/>
<path d="M490.2 284.0L494.3 284.0L492.2 280.3Z"/>
<path d="M487.4 290.5L491.5 290.5L489.5 286.8Z"/>
<path d="M493.3 289.9L497.4 289.9L495.3 286.2Z"/>
<path d="M487.4 280.6L491.5 280.6L489.5 276.9Z"/>
</g>
<path d="M31.8 268.0H65.2" stroke="#000" stroke-width="1.35" fill="none"/>
<path d="M39.2 262.5H57.8" stroke="#000" stroke-width="1.2" fill="none"/>
<path d="M39.2 273.2H57.8" stroke="#000" stroke-width="1.2" fill="none"/>
<path d="M48.5 262.5V273.2" stroke="#000" stroke-width="1.2" fill="none"/>
<path d="M79.9 269.9H113.7" stroke="#000" stroke-width="1.35" fill="none"/>
<path d="M87.8 265.8H105.8" stroke="#000" stroke-width="1.2" fill="none"/>
<path d="M87.8 273.8H105.8" stroke="#000" stroke-width="1.2" fill="none"/>
<path d="M96.8 265.8V273.8" stroke="#000" stroke-width="1.2" fill="none"/>
<path d="M128.0 273.2H162.0" stroke="#000" stroke-width="1.35" fill="none"/>
<path d="M136.0 270.6H154.0" stroke="#000" stroke-width="1.2" fill="none"/>
<path d="M136.0 276.8H154.0" stroke="#000" stroke-width="1.2" fill="none"/>
<path d="M145.0 270.6V276.8" stroke="#000" stroke-width="1.2" fill="none"/>
<path d="M205.9 269.5H239.3" stroke="#000" stroke-width="1.35" fill="none"/>
<path d="M214.1 264.7H231.1" stroke="#000" stroke-width="1.2" fill="none"/>
<path d="M214.1 274.8H231.1" stroke="#000" stroke-width="1.2" fill="none"/>
<path d="M222.6 264.7V274.8" stroke="#000" stroke-width="1.2" fill="none"/>
<path d="M254.2 271.7H287.4" stroke="#000" stroke-width="1.35" fill="none"/>
<path d="M261.8 270.0H279.8" stroke="#000" stroke-width="1.2" fill="none"/>
<path d="M261.8 273.6H279.8" stroke="#000" stroke-width="1.2" fill="none"/>
<path d="M270.8 270.0V273.6" stroke="#000" stroke-width="1.2" fill="none"/>
<path d="M302.2 276.5H335.8" stroke="#000" stroke-width="1.35" fill="none"/>
<path d="M310.3 274.8H327.7" stroke="#000" stroke-width="1.2" fill="none"/>
<path d="M310.3 278.8H327.7" stroke="#000" stroke-width="1.2" fill="none"/>
<path d="M319.0 274.8V278.8" stroke="#000" stroke-width="1.2" fill="none"/>
<path d="M375.8 271.4H409.6" stroke="#000" stroke-width="1.35" fill="none"/>
<path d="M384.2 267.2H401.2" stroke="#000" stroke-width="1.2" fill="none"/>
<path d="M384.2 276.0H401.2" stroke="#000" stroke-width="1.2" fill="none"/>
<path d="M392.7 267.2V276.0" stroke="#000" stroke-width="1.2" fill="none"/>
<path d="M424.3 272.6H457.5" stroke="#000" stroke-width="1.35" fill="none"/>
<path d="M432.2 270.6H449.6" stroke="#000" stroke-width="1.2" fill="none"/>
<path d="M432.2 274.4H449.6" stroke="#000" stroke-width="1.2" fill="none"/>
<path d="M440.9 270.6V274.4" stroke="#000" stroke-width="1.2" fill="none"/>
<path d="M473.0 278.8H506.0" stroke="#000" stroke-width="1.35" fill="none"/>
<path d="M480.7 276.5H498.3" stroke="#000" stroke-width="1.2" fill="none"/>
<path d="M480.7 280.9H498.3" stroke="#000" stroke-width="1.2" fill="none"/>
<path d="M489.5 276.5V280.9" stroke="#000" stroke-width="1.2" fill="none"/>
<text x="97" y="244.3" font-size="7.8" text-anchor="middle" stroke="#000" stroke-width="0.4">ns</text>
<text x="147.8" y="248.4" font-size="7.8" text-anchor="middle" stroke="#000" stroke-width="0.4">ns</text>
<text x="271" y="254.0" font-size="7.8" text-anchor="middle" stroke="#000" stroke-width="0.4">ns</text>
<text x="321" y="250.7" font-size="7.8" text-anchor="middle" stroke="#000" stroke-width="0.4">ns</text>
<text x="440.7" y="240.6" font-size="7.8" text-anchor="middle" stroke="#000" stroke-width="0.4">ns</text>
<text x="491.8" y="259.5" font-size="7.8" text-anchor="middle" stroke="#000" stroke-width="0.4">ns</text>
<text x="208" y="398.5" font-size="11.2" font-weight="bold" class="bd1" text-anchor="middle" textLength="65.5" lengthAdjust="spacingAndGlyphs">AML samples</text>
<path d="M122.0 403.3H293.8" stroke="#000" stroke-width="1.5" fill="none"/>
<g><clipPath id="c415"><rect x="118.7" y="415.8" width="177.5" height="18.0"/></clipPath>
<linearGradient id="g415" x1="0" y1="0" x2="0" y2="1"><stop offset="0" stop-color="#dcdcdc"/><stop offset="1" stop-color="#b4b4b4"/></linearGradient>
<rect x="118.7" y="415.8" width="177.5" height="18.0" fill="url(#g415)"/>
<g clip-path="url(#c415)">

<rect x="122.2" y="421.6" width="16.6" height="5.4" rx="2.7" fill="#8a8a8a" filter="url(#b1)"/>
<rect x="122.2" y="421.2" width="16.6" height="2.6" rx="1.3" fill="#3a3a3a" filter="url(#b2)"/>
<rect x="122.2" y="424.6" width="15.6" height="2.8" rx="1.4" fill="#333" filter="url(#b2)"/>
<rect x="142.7" y="420.6" width="16.7" height="9.4" rx="3.0" fill="#000" filter="url(#b1)"/>
<rect x="161.6" y="422.2" width="17.0" height="9.6" rx="3.0" fill="#000" filter="url(#b1)"/>
<rect x="180.6" y="421.0" width="16.6" height="9.2" rx="3.0" fill="#0a0a0a" filter="url(#b1)"/>
<rect x="199.4" y="421.0" width="17.8" height="11.4" rx="3.0" fill="#000" filter="url(#b1)"/>
<rect x="219.0" y="421.2" width="16.4" height="10.2" rx="3.0" fill="#000" filter="url(#b1)"/>
<rect x="237.6" y="422.6" width="15.8" height="8.6" rx="3.0" fill="#050505" filter="url(#b1)"/>
<rect x="238.6" y="417.6" width="14.8" height="1.2" rx="0.6" fill="#333" filter="url(#b2)"/>
<rect x="256.2" y="424.4" width="15.4" height="6.2" rx="3.0" fill="#999" filter="url(#b1)"/>
<rect x="256.2" y="424.4" width="15.4" height="2.2" rx="1.1" fill="#555" filter="url(#b2)"/>
<rect x="256.2" y="427.4" width="15.4" height="3.2" rx="1.6" fill="#3a3a3a" filter="url(#b2)"/>
<rect x="275.6" y="424.4" width="14.0" height="6.4" rx="3.0" fill="#666" filter="url(#b1)"/>
<rect x="275.6" y="424.2" width="14.0" height="2.6" rx="1.3" fill="#1a1a1a" filter="url(#b2)"/>
<rect x="275.6" y="427.4" width="14.0" height="3.6" rx="1.8" fill="#0a0a0a" filter="url(#b2)"/>
</g>
<rect x="118.7" y="415.8" width="177.5" height="18.0" fill="none" stroke="#000" stroke-width="1.6"/></g>
<g><clipPath id="c446"><rect x="118.7" y="446.3" width="177.5" height="18.899999999999977"/></clipPath>
<linearGradient id="g446" x1="0" y1="0" x2="0" y2="1"><stop offset="0" stop-color="#bcbcbc"/><stop offset="1" stop-color="#b2b2b2"/></linearGradient>
<rect x="118.7" y="446.3" width="177.5" height="18.899999999999977" fill="url(#g446)"/>
<g clip-path="url(#c446)">

<rect x="142.2" y="454.0" width="16.2" height="2.8" rx="1.4" fill="#2a2a2a" filter="url(#b2)"/>
<rect x="161.6" y="455.3" width="15.0" height="2.3" rx="1.2" fill="#707070" filter="url(#b2)"/>
<rect x="180.6" y="455.8" width="15.6" height="1.8" rx="0.9" fill="#9a9a9a" filter="url(#b2)"/>
<rect x="198.9" y="455.0" width="18.3" height="5.0" rx="2.5" fill="#000" filter="url(#b2)"/>
<rect x="219.0" y="455.3" width="15.4" height="1.7" rx="0.8" fill="#9c9c9c" filter="url(#b2)"/>
<rect x="237.6" y="455.3" width="14.8" height="1.7" rx="0.8" fill="#9c9c9c" filter="url(#b2)"/>
<rect x="255.7" y="452.8" width="16.4" height="3.8" rx="1.9" fill="#111" filter="url(#b2)"/>
<rect x="275.6" y="454.8" width="10.0" height="1.6" rx="0.8" fill="#a0a0a0" filter="url(#b2)"/>
</g>
<rect x="118.7" y="446.3" width="177.5" height="18.899999999999977" fill="none" stroke="#000" stroke-width="1.6"/></g>
<g><clipPath id="c477"><rect x="118.7" y="477.0" width="177.5" height="17.30000000000001"/></clipPath>
<linearGradient id="g477" x1="0" y1="0" x2="0" y2="1"><stop offset="0" stop-color="#d2d2d2"/><stop offset="1" stop-color="#c0c0c0"/></linearGradient>
<rect x="118.7" y="477.0" width="177.5" height="17.30000000000001" fill="url(#g477)"/>
<g clip-path="url(#c477)">

<rect x="123.0" y="483.0" width="17.0" height="4.4" rx="2.2" fill="#2a2a2a" filter="url(#b2)"/>
<rect x="142.6" y="483.2" width="17.8" height="6.6" rx="3.0" fill="#000" filter="url(#b1)"/>
<rect x="161.6" y="484.6" width="17.2" height="5.8" rx="2.9" fill="#000" filter="url(#b1)"/>
<rect x="180.2" y="483.3" width="16.8" height="5.7" rx="2.8" fill="#080808" filter="url(#b1)"/>
<rect x="198.4" y="482.2" width="18.2" height="7.4" rx="3.0" fill="#000" filter="url(#b1)"/>
<rect x="218.0" y="483.4" width="16.0" height="5.2" rx="2.6" fill="#080808" filter="url(#b1)"/>
<rect x="235.2" y="481.8" width="17.6" height="7.2" rx="3.0" fill="#000" filter="url(#b1)"/>
<rect x="251.5" y="481.0" width="18.5" height="6.4" rx="3.0" fill="#000" filter="url(#b1)"/>
<rect x="273.2" y="483.0" width="15.2" height="4.2" rx="2.1" fill="#666" filter="url(#b2)"/>
</g>
<rect x="118.7" y="477.0" width="177.5" height="17.30000000000001" fill="none" stroke="#000" stroke-width="1.6"/></g>
<g><clipPath id="c506"><rect x="118.7" y="506.3" width="177.5" height="17.19999999999999"/></clipPath>
<linearGradient id="g506" x1="0" y1="0" x2="0" y2="1"><stop offset="0" stop-color="#b0b0b0"/><stop offset="1" stop-color="#b8b8b8"/></linearGradient>
<rect x="118.7" y="506.3" width="177.5" height="17.19999999999999" fill="url(#g506)"/>
<g clip-path="url(#c506)">
<rect x="197" y="503" width="21" height="12" fill="#2a2a2a" filter="url(#b3)"/><rect x="236" y="504" width="16" height="10" fill="#6a6a6a" filter="url(#b3)"/>
<rect x="123.5" y="513.2" width="16.5" height="3.4" rx="1.7" fill="#111" filter="url(#b2)"/>
<rect x="124.5" y="517.6" width="15.5" height="1.6" rx="0.8" fill="#606060" filter="url(#b2)"/>
<rect x="142.6" y="513.1" width="17.8" height="4.8" rx="2.4" fill="#050505" filter="url(#b1)"/>
<rect x="161.6" y="513.4" width="17.8" height="7.2" rx="3.0" fill="#000" filter="url(#b1)"/>
<rect x="181.0" y="514.0" width="16.8" height="5.2" rx="2.6" fill="#050505" filter="url(#b1)"/>
<rect x="197.6" y="510.4" width="20.0" height="11.8" rx="3.0" fill="#000" filter="url(#b1)"/>
<rect x="218.2" y="514.0" width="15.6" height="5.2" rx="2.6" fill="#050505" filter="url(#b1)"/>
<rect x="235.4" y="512.4" width="17.2" height="8.2" rx="3.0" fill="#000" filter="url(#b1)"/>
<rect x="254.0" y="513.6" width="17.0" height="4.6" rx="2.3" fill="#050505" filter="url(#b1)"/>
<rect x="255.0" y="519.0" width="15.0" height="1.2" rx="0.6" fill="#777" filter="url(#b2)"/>
<rect x="272.8" y="513.6" width="17.4" height="4.6" rx="2.3" fill="#050505" filter="url(#b1)"/>
<rect x="274.0" y="519.0" width="15.0" height="1.2" rx="0.6" fill="#777" filter="url(#b2)"/>
</g>
<rect x="118.7" y="506.3" width="177.5" height="17.19999999999999" fill="none" stroke="#000" stroke-width="1.6"/></g>
<g><clipPath id="c536"><rect x="118.7" y="536.1" width="177.5" height="16.299999999999955"/></clipPath>
<linearGradient id="g536" x1="0" y1="0" x2="0" y2="1"><stop offset="0" stop-color="#cccccc"/><stop offset="1" stop-color="#bebebe"/></linearGradient>
<rect x="118.7" y="536.1" width="177.5" height="16.299999999999955" fill="url(#g536)"/>
<g clip-path="url(#c536)">
<rect x="198" y="536" width="18" height="8" fill="#8a8a8a" filter="url(#b3)"/>
<rect x="122.6" y="543.6" width="12.8" height="2.2" rx="1.1" fill="#808080" filter="url(#b2)"/>
<rect x="141.0" y="544.8" width="11.0" height="1.2" rx="0.6" fill="#aeaeae" filter="url(#b2)"/>
<rect x="159.4" y="544.2" width="16.4" height="4.8" rx="2.4" fill="#1a1a1a" filter="url(#b2)"/>
<rect x="179.2" y="545.0" width="15.8" height="3.4" rx="1.7" fill="#333" filter="url(#b2)"/>
<rect x="197.8" y="542.8" width="17.8" height="7.0" rx="3.0" fill="#000" filter="url(#b1)"/>
<rect x="218.0" y="544.2" width="14.6" height="3.8" rx="1.9" fill="#222" filter="url(#b2)"/>
<rect x="234.8" y="543.2" width="17.0" height="5.4" rx="2.7" fill="#000" filter="url(#b1)"/>
<rect x="255.0" y="545.0" width="15.0" height="1.2" rx="0.6" fill="#aeaeae" filter="url(#b2)"/>
<rect x="274.0" y="543.6" width="14.6" height="2.0" rx="1.0" fill="#686868" filter="url(#b2)"/>
</g>
<rect x="118.7" y="536.1" width="177.5" height="16.299999999999955" fill="none" stroke="#000" stroke-width="1.6"/></g>
<g><clipPath id="c565"><rect x="118.7" y="565.3" width="177.5" height="16.90000000000009"/></clipPath>
<linearGradient id="g565" x1="0" y1="0" x2="0" y2="1"><stop offset="0" stop-color="#a6a6a6"/><stop offset="1" stop-color="#b0b0b0"/></linearGradient>
<rect x="118.7" y="565.3" width="177.5" height="16.90000000000009" fill="url(#g565)"/>
<g clip-path="url(#c565)">

<rect x="121.5" y="572.4" width="140.5" height="4.4" rx="2.2" fill="#000" filter="url(#b2)"/>
<rect x="123.4" y="571.0" width="18.8" height="6.8" rx="3.0" fill="#000" filter="url(#b1)"/>
<rect x="143.6" y="571.4" width="18.0" height="6.0" rx="3.0" fill="#000" filter="url(#b1)"/>
<rect x="162.4" y="571.8" width="17.4" height="5.6" rx="2.8" fill="#000" filter="url(#b1)"/>
<rect x="181.0" y="571.4" width="19.0" height="6.0" rx="3.0" fill="#000" filter="url(#b1)"/>
<rect x="198.0" y="569.6" width="20.6" height="9.0" rx="3.0" fill="#000" filter="url(#b1)"/>
<rect x="217.0" y="571.2" width="19.0" height="6.2" rx="3.0" fill="#000" filter="url(#b1)"/>
<rect x="235.0" y="570.4" width="18.0" height="6.4" rx="3.0" fill="#000" filter="url(#b1)"/>
<rect x="252.0" y="569.2" width="19.6" height="5.4" rx="2.7" fill="#000" filter="url(#b1)"/>
<rect x="274.6" y="571.6" width="13.0" height="1.2" rx="0.6" fill="#5a5a5a" filter="url(#b2)"/>
</g>
<rect x="118.7" y="565.3" width="177.5" height="16.90000000000009" fill="none" stroke="#000" stroke-width="1.6"/></g>
<path d="M324.5 426.0H312.6" stroke="#000" stroke-width="1.6" fill="none"/>
<path d="M308.6 426.0L315.40000000000003 423.1L314.20000000000005 426.0L315.40000000000003 428.9Z" fill="#000"/>
<path d="M324.5 429.5H312.6" stroke="#000" stroke-width="1.6" fill="none"/>
<path d="M308.6 429.5L315.40000000000003 426.6L314.20000000000005 429.5L315.40000000000003 432.4Z" fill="#000"/>
<path d="M324.5 452.7H312.6" stroke="#000" stroke-width="1.6" fill="none"/>
<path d="M308.6 452.7L315.40000000000003 449.8L314.20000000000005 452.7L315.40000000000003 455.59999999999997Z" fill="#000"/>
<path d="M324.5 456.1H312.6" stroke="#000" stroke-width="1.6" fill="none"/>
<path d="M308.6 456.1L315.40000000000003 453.20000000000005L314.20000000000005 456.1L315.40000000000003 459.0Z" fill="#000"/>
<path d="M324.5 481.9H312.6" stroke="#000" stroke-width="1.6" fill="none"/>
<path d="M308.6 481.9L315.40000000000003 479.0L314.20000000000005 481.9L315.40000000000003 484.79999999999995Z" fill="#000"/>
<path d="M324.5 485.5H312.6" stroke="#000" stroke-width="1.6" fill="none"/>
<path d="M308.6 485.5L315.40000000000003 482.6L314.20000000000005 485.5L315.40000000000003 488.4Z" fill="#000"/>
<path d="M324.5 512.6H312.6" stroke="#000" stroke-width="1.6" fill="none"/>
<path d="M308.6 512.6L315.40000000000003 509.70000000000005L314.20000000000005 512.6L315.40000000000003 515.5Z" fill="#000"/>
<path d="M324.5 516.3H312.6" stroke="#000" stroke-width="1.6" fill="none"/>
<path d="M308.6 516.3L315.40000000000003 513.4L314.20000000000005 516.3L315.40000000000003 519.1999999999999Z" fill="#000"/>
<path d="M321.6 545.0H313.3" stroke="#000" stroke-width="1.6" fill="none"/>
<path d="M309.3 545.0L316.1 542.1L314.90000000000003 545.0L316.1 547.9Z" fill="#000"/>
<path d="M321.6 573.3H313.3" stroke="#000" stroke-width="1.6" fill="none"/>
<path d="M309.3 573.3L316.1 570.4L314.90000000000003 573.3L316.1 576.1999999999999Z" fill="#000"/>
<text x="332.4" y="432.0" font-size="10" font-weight="bold" class="bd1" textLength="53.6" lengthAdjust="spacingAndGlyphs">p-SFK (Y416)</text>
<text x="332.4" y="459.0" font-size="10" font-weight="bold" class="bd1" textLength="53.6" lengthAdjust="spacingAndGlyphs">p-SFK (Y527)</text>
<text x="332.4" y="488.0" font-size="10" font-weight="bold" class="bd1" textLength="14.6" lengthAdjust="spacingAndGlyphs">Lyn</text>
<text x="329.9" y="516.0" font-size="10" font-weight="bold" class="bd1" textLength="15.6" lengthAdjust="spacingAndGlyphs">Hck</text>
<text x="327.0" y="550.6" font-size="10" font-weight="bold" class="bd1" textLength="12.8" lengthAdjust="spacingAndGlyphs">Fgr</text>
<text x="327.0" y="578.2" font-size="10" font-weight="bold" class="bd1" textLength="32.4" lengthAdjust="spacingAndGlyphs">β -Actin</text>
</g>
</svg></body></html>
